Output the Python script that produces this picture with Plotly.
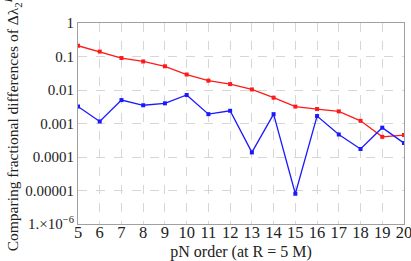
import plotly.graph_objects as go

pn_order = [5, 6, 7, 8, 9, 10, 11, 12, 13, 14, 15, 16, 17, 18, 19, 20]
red_values = [0.21, 0.14, 0.09, 0.071, 0.051, 0.029, 0.019, 0.015, 0.0104,
              0.0059, 0.0032, 0.0027, 0.0023, 0.0012, 0.0004, 0.00045]
blue_values = [0.0032, 0.00115, 0.005, 0.0035, 0.004, 0.0071, 0.0019, 0.0024,
               0.000137, 0.0019, 0.000008, 0.00167, 0.00047, 0.000173, 0.00075, 0.00026]
y_tickvals = [1, 0.1, 0.01, 0.001, 0.0001, 0.00001, 0.000001]
y_ticktext = ["1", "0.1", "0.01", "0.001", "0.0001", "0.00001", "1.\u00d710<sup>\u22126</sup>"]

FONT = "Times New Roman, Liberation Serif, serif"

fig = go.Figure()
fig.add_trace(go.Scatter(x=pn_order, y=red_values, mode="lines+markers",
                         line=dict(color="#ff1a1a", width=1.3),
                         marker=dict(color="#ff1a1a", size=4, symbol="square")))
fig.add_trace(go.Scatter(x=pn_order, y=blue_values, mode="lines+markers",
                         line=dict(color="#1a1aff", width=1.3),
                         marker=dict(color="#1a1aff", size=4, symbol="square")))

fig.update_layout(
    width=411, height=261,
    margin=dict(l=78, r=7, t=23, b=37, autoexpand=False),
    paper_bgcolor="white", plot_bgcolor="white",
    showlegend=False,
    font=dict(family=FONT, size=15, color="#222"),
)
fig.update_xaxes(
    range=[5, 20], tickvals=pn_order, ticks="", automargin=False,
    tickfont=dict(family=FONT, size=16.5), ticklabeloverflow="allow",
    ticklabelstandoff=-7,
    showgrid=True, gridcolor="#d6d6d6", griddash="dash", gridwidth=1,
    showline=True, linecolor="#a0a0a0", linewidth=1, mirror=True,
    zeroline=False,
    title=dict(text="pN order (at R = 5 M)", font=dict(family=FONT, size=16), standoff=5),
)
fig.update_yaxes(
    type="log", range=[-6, 0], tickvals=y_tickvals, ticktext=y_ticktext, ticks="",
    automargin=False, tickfont=dict(family=FONT, size=15), ticklabeloverflow="allow",
    showgrid=True, gridcolor="#d6d6d6", griddash="dash", gridwidth=1,
    showline=True, linecolor="#a0a0a0", linewidth=1, mirror=True,
    zeroline=False,
    title=dict(text="Comparing fractional differences of \u0394\u03bb<sub>2</sub><sup><i>E</i></sup>",
               font=dict(family=FONT, size=15.5), standoff=2),
)
fig.write_html("out.html", config={"displayModeBar": False},
               post_script="document.body.style.margin='0';")
